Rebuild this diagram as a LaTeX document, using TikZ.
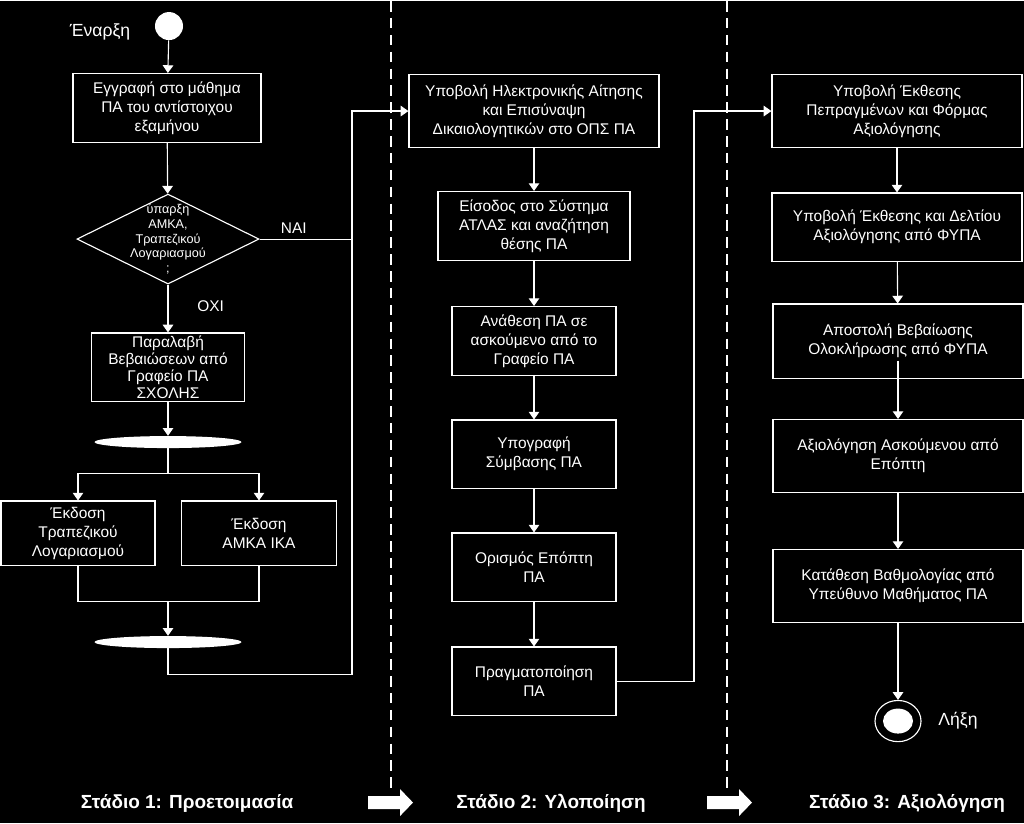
\documentclass[tikz,border=0pt]{standalone}
\usepackage{fontspec}
\setmainfont{Liberation Sans}
\usetikzlibrary{shapes.geometric,arrows.meta}

\begin{document}
\begin{tikzpicture}[x=0.025cm,y=-0.025cm,
    every node/.style={text=white},
    box/.style={draw=white,line width=0.8pt,fill=black,align=center,inner sep=2pt,font=\fontsize{11}{13.5}\selectfont},
    bar/.style={ellipse,fill=white,minimum width=3.675cm,minimum height=0.3cm,inner sep=0pt},
    flow/.style={draw=white,line width=0.8pt,-{Triangle[width=7.5pt,length=5.5pt]}},
    link/.style={draw=white,line width=0.8pt},
    lbl/.style={font=\fontsize{11}{13.5}\selectfont},
    stage/.style={font=\bfseries\fontsize{13.5}{16}\selectfont},
    lane/.style={white,line width=1.5pt,dash pattern=on 7.5pt off 4.5pt}]
    \fill[black] (0,0) rectangle (1024,822);

    \draw[lane] (391,0) -- (391,790);
    \draw[lane] (727,0) -- (727,790);
    \foreach \x in {368,707}
        \fill[white] (\x,795) -- (\x+32,795) -- (\x+32,788) -- (\x+45,801.5) -- (\x+32,815) -- (\x+32,808) -- (\x,808) -- cycle;

    \node[stage] (st1) at (187,802) {Στάδιο 1: Προετοιμασία};
    \node[stage] (st2) at (551,802) {Στάδιο 2: Υλοποίηση};
    \node[stage] (st3) at (907,802) {Στάδιο 3: Αξιολόγηση};

    % Stage 1
    \node[circle,fill=white,minimum size=0.7cm,inner sep=0pt] (start) at (169,25) {};
    \node[font=\fontsize{12.5}{15}\selectfont] (startlbl) at (100,31) {Έναρξη};
    \node[box,minimum width=4.7cm,minimum height=1.725cm] (enrol) at (167,107) {Εγγραφή στο μάθημα\\ΠΑ του αντίστοιχου\\εξαμήνου};
    \node[diamond,draw=white,line width=0.8pt,minimum width=4.55cm,minimum height=2.25cm,inner sep=0pt,
        label={[align=center,font=\fontsize{9}{10.6}\selectfont]center:{ύπαρξη\\ΑΜΚΑ,\\Τραπεζικού\\Λογαριασμού\\;}}] (dec) at (168,238) {};
    \node[box,minimum width=3.825cm,minimum height=1.6cm,font=\fontsize{11}{12}\selectfont] (recv) at (168,366) {Παραλαβή\\Βεβαιώσεων από\\Γραφείο ΠΑ\\ΣΧΟΛΗΣ};
    \node[bar] (bar1) at (168,441) {};
    \node[box,minimum width=3.85cm,minimum height=1.6cm] (bank) at (78,532) {Έκδοση\\Τραπεζικού\\Λογαριασμού};
    \node[box,minimum width=3.875cm,minimum height=1.6cm] (amka) at (259,532) {Έκδοση\\ΑΜΚΑ ΙΚΑ};
    \node[bar] (bar2) at (168,641) {};
    \coordinate (fork) at (168,472);
    \coordinate (join) at (168,600);
    \coordinate (loop1) at (352,673);

    \draw[flow] (start) -- (enrol);
    \draw[flow] (enrol) -- (dec);
    \draw[flow] (dec.south) -- (recv.north) node[lbl,pos=0.45,right=0.6cm] (no) {ΟΧΙ};
    \draw[flow] (recv) -- (bar1);
    \draw[link] (bar1) -- (fork);
    \draw[flow] (fork) -| (bank.north);
    \draw[flow] (fork) -| (amka.north);
    \draw[link] (bank.south) |- (join);
    \draw[link] (amka.south) |- (join);
    \draw[flow] (join) -- (bar2.north);

    % Stage 2
    \node[box,minimum width=6.25cm,minimum height=1.825cm] (apply) at (534,110) {Υποβολή Ηλεκτρονικής Αίτησης\\και Επισύναψη\\Δικαιολογητικών στο ΟΠΣ ΠΑ};
    \node[box,minimum width=4.8cm,minimum height=1.725cm] (atlas) at (534,225) {Είσοδος στο Σύστημα\\ΑΤΛΑΣ και αναζήτηση\\θέσης ΠΑ};
    \node[box,minimum width=4.1cm,minimum height=1.725cm] (assign) at (534,340) {Ανάθεση ΠΑ σε\\ασκούμενο από το\\Γραφείο ΠΑ};
    \node[box,minimum width=4.1cm,minimum height=1.7cm] (sign) at (534,453) {Υπογραφή\\Σύμβασης ΠΑ};
    \node[box,minimum width=4.1cm,minimum height=1.7cm] (super) at (534,566) {Ορισμός Επόπτη\\ΠΑ};
    \node[box,minimum width=4.1cm,minimum height=1.7cm] (work) at (534,680) {Πραγματοποίηση\\ΠΑ};
    \coordinate (loop2) at (694,680);

    \draw[link] (dec.east) -- (dec.east -| loop1) node[lbl,pos=0.37,above] (yes) {ΝΑΙ};
    \draw[flow] (bar2.south) |- (loop1) |- (apply.west);
    \draw[flow] (apply) -- (atlas);
    \draw[flow] (atlas) -- (assign);
    \draw[flow] (assign) -- (sign);
    \draw[flow] (sign) -- (super);
    \draw[flow] (super) -- (work);

    % Stage 3
    \node[box,minimum width=6.25cm,minimum height=1.825cm] (report) at (897,110) {Υποβολή Έκθεσης\\Πεπραγμένων και Φόρμας\\Αξιολόγησης};
    \node[box,minimum width=6.25cm,minimum height=1.7cm] (sheet) at (897,226) {Υποβολή Έκθεσης και Δελτίου\\Αξιολόγησης από ΦΥΠΑ};
    \node[box,minimum width=6.25cm,minimum height=1.85cm] (cert) at (898,340) {Αποστολή Βεβαίωσης\\Ολοκλήρωσης από ΦΥΠΑ};
    \node[box,minimum width=6.25cm,minimum height=1.825cm] (eval) at (898,455) {Αξιολόγηση Ασκούμενου από\\Επόπτη};
    \node[box,minimum width=6.25cm,minimum height=1.825cm] (grade) at (898,585) {Κατάθεση Βαθμολογίας από\\Υπεύθυνο Μαθήματος ΠΑ};
    \node[ellipse,draw=white,line width=0.8pt,minimum width=1.15cm,minimum height=1.03cm,inner sep=0pt] (stop) at (898,720) {};
    \node[ellipse,fill=white,minimum width=0.75cm,minimum height=0.625cm,inner sep=0pt] (stopdot) at (stop) {};
    \node[font=\fontsize{12.5}{15}\selectfont] (stoplbl) at (958,720) {Λήξη};

    \draw[flow] (work.east) -- (loop2) |- (report.west);
    \draw[flow] (report) -- (sheet);
    \draw[flow] (sheet) -- (cert);
    \draw[flow] ([yshift=0.45cm]cert.south) -- (eval.north);
    \draw[flow] (eval) -- (grade);
    \draw[flow] (grade) -- (stop);
\end{tikzpicture}
\end{document}
